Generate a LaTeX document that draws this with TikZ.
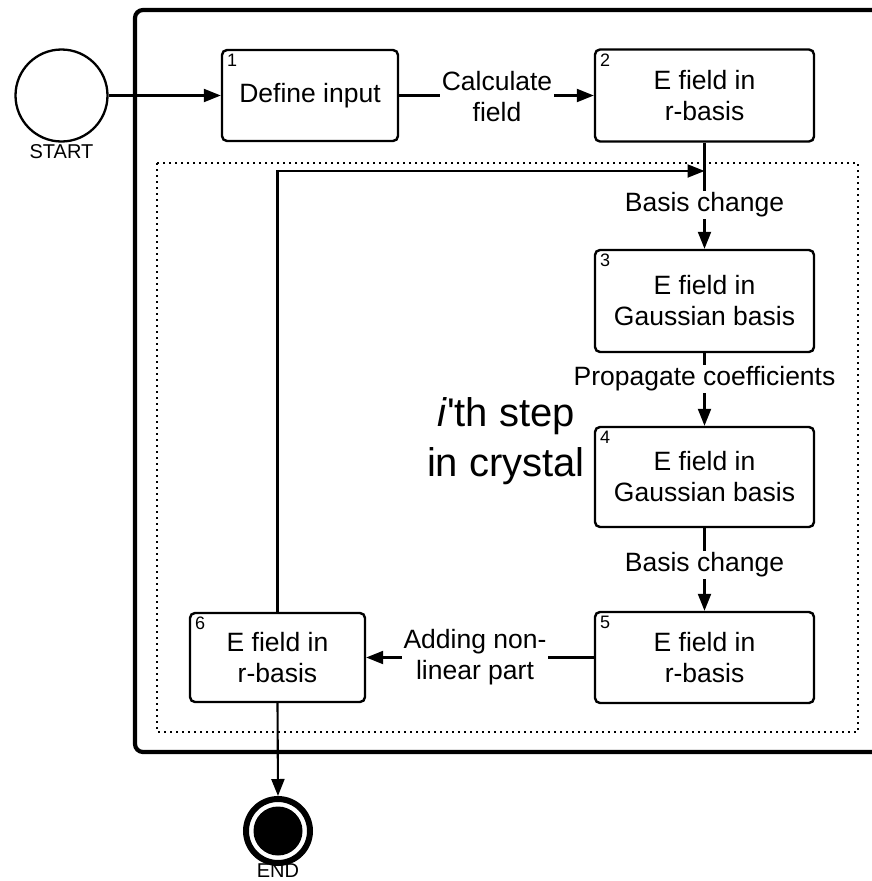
\documentclass[tikz,border=0pt]{standalone}
\usepackage{fontspec}
\setmainfont{Liberation Sans}
\usetikzlibrary{arrows.meta}

\tikzset{
  stepbox/.style={draw, line width=2.4pt, rounded corners=5pt, fill=white,
    align=center, inner sep=0pt, font=\fontsize{26.5}{31}\selectfont},
  stepnum/.style={anchor=north west, inner sep=0pt, font=\fontsize{18}{18}\selectfont},
  conn/.style={line width=2.1pt, -{Triangle[length=17pt,width=13pt]}},
  plainconn/.style={line width=2.1pt},
  edgelabel/.style={fill=white, inner sep=2pt, align=center, font=\fontsize{26.5}{31}\selectfont},
  termlabel/.style={inner sep=0pt, font=\fontsize{20}{20}\selectfont},
}

\begin{document}
\begin{tikzpicture}[x=1pt,y=-1pt]
\useasboundingbox (0,0) rectangle (871,881);

% outer frame, open to the right
\draw[line width=4.2pt, rounded corners=8pt] (880,10) -- (135,10) -- (135,752) -- (880,752);
% loop region
\draw[line width=1.8pt, dash pattern=on 1.8pt off 4.2pt] (157,163) rectangle (858,732);

% start / end
\node[draw, circle, line width=2.3pt, minimum size=92pt, inner sep=0pt] (start) at (61.5,95.5) {};
\node[termlabel, anchor=north] (startlabel) at (61.5,144) {START};

\node[draw, circle, line width=6pt, minimum size=64pt, inner sep=0pt] (end) at (278,831) {};
\fill (end.center) circle (24.5pt);
\node[termlabel, anchor=north] (endlabel) at (278,864) {END};

% steps
\node[stepbox, minimum width=176pt, minimum height=91pt] (b1) at (310,95.5) {Define input};
\node[stepbox, minimum width=219pt, minimum height=92pt] (b2) at (704.5,95.5) {E field in\\r-basis};
\node[stepbox, minimum width=219pt, minimum height=102pt] (b3) at (704.5,301) {E field in\\Gaussian basis};
\node[stepbox, minimum width=219pt, minimum height=100pt] (b4) at (704.5,477) {E field in\\Gaussian basis};
\node[stepbox, minimum width=219pt, minimum height=91pt] (b5) at (704.5,657.5) {E field in\\r-basis};
\node[stepbox, minimum width=175pt, minimum height=89pt] (b6) at (277.5,657.5) {E field in\\r-basis};

\foreach \b/\n in {b1/1, b2/2, b3/3, b4/4, b5/5, b6/6}
  \node[stepnum] (num\b) at ([xshift=6pt,yshift=-5pt]\b.north west) {\n};

% connectors
\coordinate (loopend) at (704.5,171);
\draw[conn] (start.east) -- (b1.west);
\draw[conn] (b1.east) -- (b2.west);
\draw[plainconn] (b2.south) -- (loopend);
\draw[conn] (loopend) -- (b3.north);
\draw[conn] (b3.south) -- (b4.north);
\draw[conn] (b4.south) -- (b5.north);
\draw[conn] (b5.west) -- (b6.east);
\draw[conn] (b6.north) |- (loopend);
\draw[conn] (b6.south) -- (end.north);

% connector labels
\node[edgelabel] (l12) at (497,97) {Calculate\\field};
\node[edgelabel] (l23) at (704.5,205) {Basis change};
\node[edgelabel] (l34) at (704.5,379) {Propagate coefficients};
\node[edgelabel] (l45) at (704.5,565) {Basis change};
\node[edgelabel] (l56) at (475,657.5) {Adding non-\\linear part};

% loop caption
\node[align=center, inner sep=0pt, font=\fontsize{40}{50}\selectfont] (caption) at (506,441)
  {\textit{i}\textquotesingle th step\\in crystal};
\end{tikzpicture}
\end{document}
